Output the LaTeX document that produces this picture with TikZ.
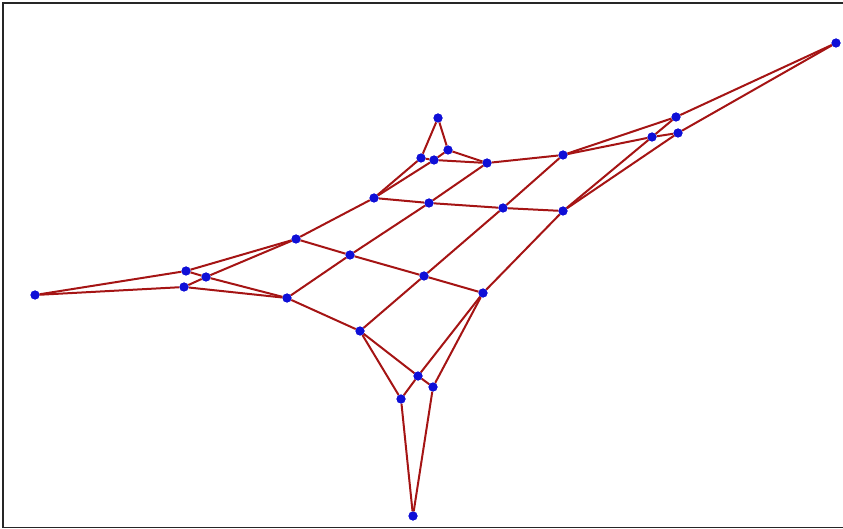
\documentclass[tikz,border=0pt]{standalone}
\begin{document}
\begin{tikzpicture}[x=1pt,y=-1pt,
  vtx/.style={circle,fill=vblue,inner sep=0pt,minimum size=9pt},
  edge/.style={draw=ered,line width=2pt}]
\definecolor{vblue}{RGB}{15,15,215}
\definecolor{ered}{RGB}{165,20,20}
\useasboundingbox (0,0) rectangle (843,529);
\draw[line width=1.5pt,black!85] (843,3) -- (3,3) -- (3,527.5) -- (843,527.5);
% top cluster
\node[vtx] (ts) at (438,118) {};
\node[vtx] (tb) at (421,158) {};
\node[vtx] (tm) at (434,160) {};
\node[vtx] (ta) at (448,150) {};
% right cluster
\node[vtx] (rs) at (836,43) {};
\node[vtx] (rp) at (676,117) {};
\node[vtx] (rm) at (652,137) {};
\node[vtx] (rr) at (678,133) {};
% left cluster
\node[vtx] (ls) at (35,295) {};
\node[vtx] (lx) at (186,271) {};
\node[vtx] (lm) at (206,277) {};
\node[vtx] (ly) at (184,287) {};
% bottom cluster
\node[vtx] (bs) at (413,516) {};
\node[vtx] (bx) at (401,399) {};
\node[vtx] (bm) at (418,376) {};
\node[vtx] (by) at (433,387) {};
% grid
\node[vtx] (g01) at (487,163) {};
\node[vtx] (g02) at (563,155) {};
\node[vtx] (g10) at (374,198) {};
\node[vtx] (g11) at (429,203) {};
\node[vtx] (g12) at (503,208) {};
\node[vtx] (g13) at (563,211) {};
\node[vtx] (g20) at (296,239) {};
\node[vtx] (g21) at (350,255) {};
\node[vtx] (g22) at (424,276) {};
\node[vtx] (g23) at (483,293) {};
\node[vtx] (g31) at (287,298) {};
\node[vtx] (g32) at (360,331) {};
% edges
\foreach \a/\b in {ts/tb,ts/ta,tm/tb,tm/ta,tb/g10,tm/g10,tm/g01,ta/g01,
  rs/rp,rs/rr,rm/rp,rm/rr,rp/g02,rm/g02,rm/g13,rr/g13,
  ls/lx,ls/ly,lm/lx,lm/ly,lx/g20,lm/g20,lm/g31,ly/g31,
  bs/bx,bs/by,bm/bx,bm/by,bx/g32,bm/g32,bm/g23,by/g23,
  g01/g02,g10/g11,g11/g12,g12/g13,g20/g21,g21/g22,g22/g23,g31/g32,
  g20/g10,g31/g21,g21/g11,g11/g01,g32/g22,g22/g12,g12/g02,g23/g13}
  \draw[edge] (\a) -- (\b);
% redraw vertices on top
\foreach \n in {ts,tb,tm,ta,rs,rp,rm,rr,ls,lx,lm,ly,bs,bx,bm,by,
  g01,g02,g10,g11,g12,g13,g20,g21,g22,g23,g31,g32}
  \fill[vblue] (\n) circle (4.5pt);
\end{tikzpicture}
\end{document}
